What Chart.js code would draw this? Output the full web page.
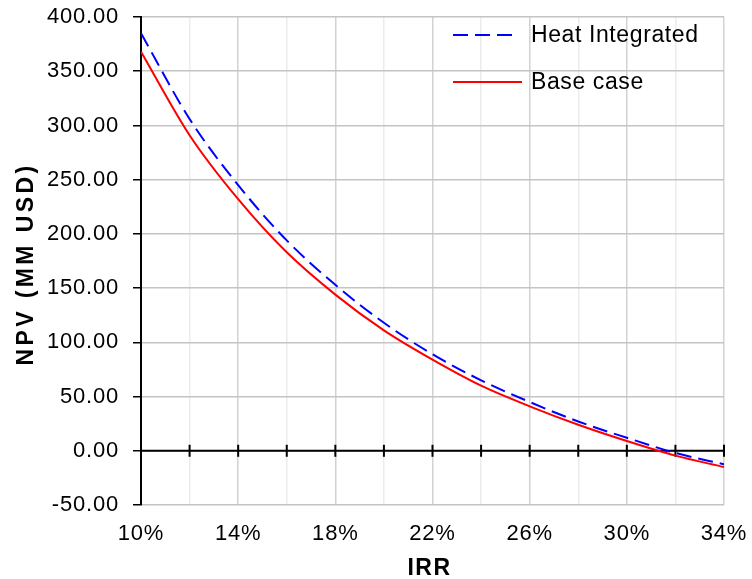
<!DOCTYPE html>
<html>
<head>
<meta charset="utf-8">
<script src="https://cdn.jsdelivr.net/npm/chart.js@4.4.1/dist/chart.umd.min.js"></script>
<style>
  html, body { margin: 0; padding: 0; background: #fff; }
  canvas { display: block; }
</style>
</head>
<body>
<canvas id="npv" width="752" height="579"></canvas>
<script>
// IRR (%) at which NPV is evaluated
const irrPct = [10, 12, 14, 16, 18, 20, 22, 24, 26, 28, 30, 32, 34];
// NPV (MM USD) for each process configuration
const npvHeatIntegrated = [385, 306, 245, 194, 153, 118, 89, 65, 45, 27, 12, -2, -12.5];
const npvBaseCase = [368, 291, 232, 183, 144, 111, 84, 60, 41, 24, 9, -4.5, -15];
// Axis ranges and titles
const yTicksMin = -50, yTicksMax = 400, yStep = 50;
const xTitle = 'IRR';
const yTitle = 'NPV (MM USD)';

const FONT = "'Liberation Sans', Arial, sans-serif";
const TICK_SPACING = '0.8px';

const toPoints = (ys) => irrPct.map((x, i) => ({ x: x, y: ys[i] }));

// Draws the zero axis, the inner legend and the axis titles
const decor = {
  id: 'npvDecor',
  beforeLayout(chart) { chart.ctx.letterSpacing = TICK_SPACING; },
  beforeDraw(chart) { chart.ctx.letterSpacing = TICK_SPACING; },
  beforeDatasetsDraw(chart) {
    const { ctx, chartArea, scales } = chart;
    const y0 = scales.y.getPixelForValue(0);
    ctx.save();
    ctx.strokeStyle = '#000';
    ctx.lineWidth = 2;
    ctx.beginPath();
    ctx.moveTo(chartArea.left, y0);
    ctx.lineTo(chartArea.right, y0);
    ctx.stroke();
    scales.x.ticks.forEach(t => {
      const px = scales.x.getPixelForValue(t.value);
      if (px <= chartArea.left + 1) return;
      ctx.beginPath();
      ctx.moveTo(px, y0 - 6);
      ctx.lineTo(px, y0 + 6);
      ctx.stroke();
    });
    ctx.restore();
  },
  afterDraw(chart) {
    const { ctx, chartArea } = chart;
    ctx.save();
    // legend
    const rows = [
      { ds: chart.data.datasets[0], y: 35, x1: 516 },
      { ds: chart.data.datasets[1], y: 82, x1: 522 }
    ];
    rows.forEach(r => {
      ctx.strokeStyle = r.ds.borderColor;
      ctx.lineWidth = r.ds.borderWidth;
      ctx.setLineDash(r.ds.borderDash || []);
      ctx.beginPath();
      ctx.moveTo(453, r.y);
      ctx.lineTo(r.x1, r.y);
      ctx.stroke();
      ctx.setLineDash([]);
      ctx.fillStyle = '#000';
      ctx.font = '23px ' + FONT;
      ctx.letterSpacing = '0.6px';
      ctx.textAlign = 'left';
      ctx.textBaseline = 'middle';
      ctx.fillText(r.ds.label, 531, r.y + 1);
    });
    // axis titles
    ctx.fillStyle = '#000';
    ctx.font = 'bold 23px ' + FONT;
    ctx.textAlign = 'center';
    ctx.textBaseline = 'middle';
    ctx.letterSpacing = '1.5px';
    ctx.fillText(xTitle, (chartArea.left + chartArea.right) / 2 - 3, 569);
    ctx.translate(27, 264);
    ctx.rotate(-Math.PI / 2);
    ctx.letterSpacing = '3.4px';
    ctx.fillText(yTitle, 0, 0);
    ctx.restore();
  }
};

new Chart(document.getElementById('npv'), {
  type: 'line',
  data: {
    datasets: [
      {
        label: 'Heat Integrated',
        data: toPoints(npvHeatIntegrated),
        borderColor: '#0000ff',
        borderWidth: 2,
        borderDash: [15, 7],
        pointRadius: 0,
        fill: false,
        cubicInterpolationMode: 'monotone'
      },
      {
        label: 'Base case',
        data: toPoints(npvBaseCase),
        borderColor: '#ff0000',
        borderWidth: 2,
        pointRadius: 0,
        fill: false,
        cubicInterpolationMode: 'monotone'
      }
    ]
  },
  options: {
    responsive: false,
    animation: false,
    devicePixelRatio: 1,
    layout: { padding: { top: 17, right: 28, left: 0, bottom: 0 } },
    plugins: { legend: { display: false }, tooltip: { enabled: false } },
    scales: {
      x: {
        type: 'linear',
        min: irrPct[0],
        max: irrPct[irrPct.length - 1],
        afterFit: s => { s.height = 74; s.paddingLeft = 0; s.paddingRight = 0; },
        border: { display: false },
        grid: {
          drawTicks: false,
          lineWidth: 1.5,
          color: c => (c.tick && Math.round(c.tick.value - 10) % 4 === 0) ? '#d2d2d2' : '#ececec'
        },
        ticks: {
          stepSize: 2,
          autoSkip: false,
          maxRotation: 0,
          padding: 16,
          color: '#000',
          font: { family: FONT, size: 22 },
          callback: v => (Math.round(v - 10) % 4 === 0) ? Math.round(v) + '%' : ''
        }
      },
      y: {
        min: yTicksMin,
        max: yTicksMax,
        afterFit: s => { s.width = 141; s.paddingTop = 0; s.paddingBottom = 0; },
        border: { display: true, color: '#000', width: 2 },
        grid: {
          color: '#c4c4c4',
          lineWidth: 1.5,
          tickColor: '#000',
          tickWidth: 1.5,
          tickLength: 8
        },
        ticks: {
          stepSize: yStep,
          padding: 14,
          color: '#000',
          font: { family: FONT, size: 22 },
          callback: v => Number(v).toFixed(2)
        }
      }
    }
  },
  plugins: [decor]
});
</script>
</body>
</html>
